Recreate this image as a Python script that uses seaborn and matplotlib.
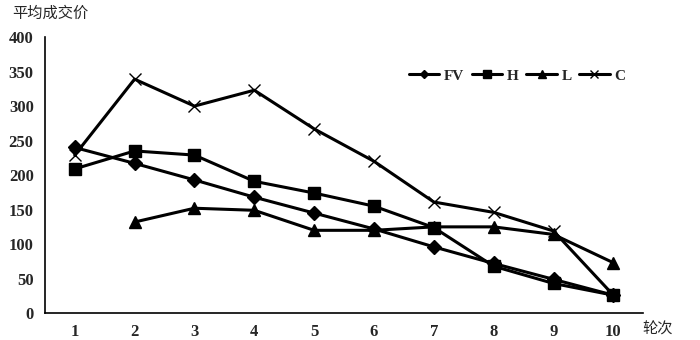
import numpy as np
import pandas as pd
import matplotlib
matplotlib.use('Agg')
import matplotlib.pyplot as plt
import seaborn as sns

# Data
rounds = [1, 2, 3, 4, 5, 6, 7, 8, 9, 10]
fv = [240, 217, 193, 168, 145, 122, 96, 72, 49, 26]
h = [209, 235, 229, 191, 174, 155, 124, 68, 43, 26]
l = [np.nan, 132, 152, 149, 120, 120, 125, 125, 114, 73]
c = [229, 339, 300, 323, 267, 220, 161, 146, 119, 26]

series_names = ['FV', 'H', 'L', 'C']

df = pd.DataFrame({'round': rounds * 4,
                   'series': np.repeat(series_names, len(rounds)),
                   'price': fv + h + l + c})

sns.set_style('white')
plt.rcParams['font.family'] = ['Liberation Serif', 'Noto Sans CJK SC', 'DejaVu Sans']

fig = plt.figure(figsize=(7, 3.4), dpi=100)
ax = fig.add_axes([0.064, 0.079, 0.855, 0.812])

markers = {'FV': 'D', 'H': 's', 'L': '^', 'C': 'x'}
sizes = {'FV': 7, 'H': 9, 'L': 9, 'C': 9}
for name in series_names:
    sub = df[df['series'] == name]
    sns.lineplot(x='round', y='price', data=sub, ax=ax, color='black',
                 linewidth=2.2, marker=markers[name], markersize=sizes[name],
                 markeredgecolor='black', markeredgewidth=1.0, label=name)

ax.set_xlim(0.5, 10.5)
ax.set_ylim(0, 400)
ax.set_xticks(rounds)
ax.set_yticks(range(0, 401, 50))
ax.tick_params(length=0, labelsize=12, pad=8)
for lab in ax.get_xticklabels() + ax.get_yticklabels():
    lab.set_fontweight('bold')
ax.set_xlabel('')
ax.set_ylabel('')
sns.despine(ax=ax)
for s in ['left', 'bottom']:
    ax.spines[s].set_color('black')
    ax.spines[s].set_linewidth(1.2)

leg = ax.legend(loc='center left', bbox_to_anchor=(0.585, 0.86), ncol=4,
                frameon=False, markerscale=0.6, handlelength=2.0,
                handletextpad=0.3, columnspacing=0.5,
                prop={'family': 'Liberation Serif', 'weight': 'bold', 'size': 11})

fig.text(0.018, 0.962, '平均成交价', family=['Noto Sans CJK SC', 'DejaVu Sans'],
         fontsize=11, va='center')
fig.text(0.918, 0.032, '轮次', family=['Noto Sans CJK SC', 'DejaVu Sans'],
         fontsize=11, va='center')

fig.savefig('out.png', dpi=100)
